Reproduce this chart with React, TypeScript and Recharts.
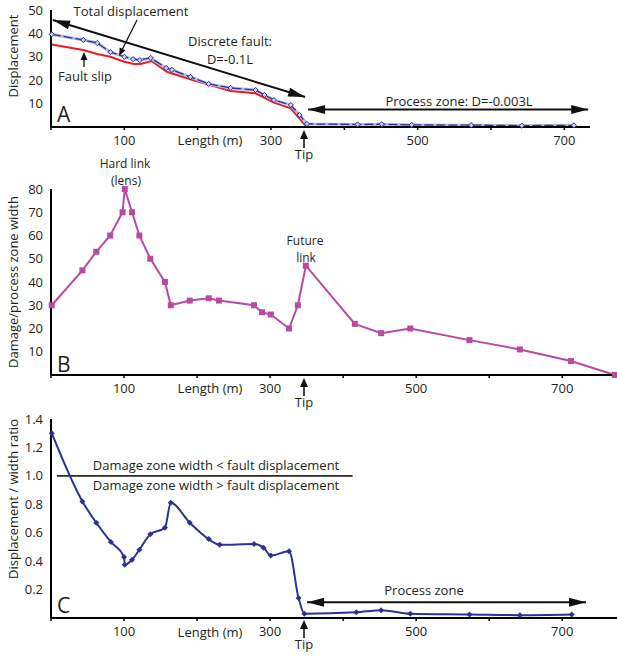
import React from "react";
import { LineChart, Line, XAxis, YAxis, ReferenceLine } from "recharts";

// Panel A: displacement along the fault (m)
const lengthTotal = [1, 44, 63, 81, 100, 112, 121, 136, 157, 165, 190, 215, 245, 279, 291, 304, 327, 339, 349, 418, 451, 492, 573, 642, 713];
const totalDisplacement = [39.6, 37.2, 35.9, 32, 30, 29, 28.6, 29.5, 25.2, 24.4, 21.4, 18.4, 16.7, 15.8, 13.7, 11.5, 9.4, 5.1, 1.3, 1.1, 1.2, 0.9, 0.8, 0.6, 0.7];
const lengthSlip = [1, 44, 63, 81, 100, 113, 122, 137, 158, 190, 245, 279, 304, 327, 348];
const faultSlip = [35.3, 32.9, 31.2, 30, 27.9, 26.9, 26.9, 28.2, 23.6, 20.4, 15.4, 14.4, 10.4, 8, 0.3];

// Panel B: damage / process zone width
const lengthWidth = [1, 43, 62, 81, 98, 101, 111, 121, 136, 156, 164, 190, 216, 230, 278, 289, 301, 326, 338, 349, 416, 452, 492, 573, 642, 712, 772];
const zoneWidth = [30, 45, 53, 60, 70, 80, 70, 60, 50, 40, 30, 32, 33, 32, 30, 27, 26, 20, 30, 47, 22, 18, 20, 15, 11, 6, 0];

// Panel C: displacement / width ratio
const lengthRatio = [1, 43, 62, 82, 100, 101, 111, 121, 136, 156, 164, 190, 216, 231, 278, 291, 301, 326, 339, 347, 418, 452, 492, 573, 642, 713];
const dispWidthRatio = [1.3, 0.82, 0.67, 0.535, 0.43, 0.375, 0.41, 0.48, 0.59, 0.635, 0.81, 0.67, 0.555, 0.515, 0.52, 0.495, 0.44, 0.47, 0.14, 0.03, 0.04, 0.055, 0.03, 0.025, 0.02, 0.025];

const lengthTicks = [0, 100, 200, 300, 400, 500, 600, 700];
const labelledLengths = [100, 300, 500, 700];
const dispTicks = [10, 20, 30, 40, 50];
const widthTicks = [10, 20, 30, 40, 50, 60, 70, 80];
const ratioTicks = [0.2, 0.4, 0.6, 0.8, 1.0, 1.2, 1.4];

const FONT = "'Open Sans', 'Noto Sans', sans-serif";
const INK = "#231f20";
const NAVY = "#2e3192";
const RED = "#ed1c24";
const MAGENTA = "#b84b9f";

const toPoints = (xs: number[], ys: number[]) => xs.map((x, i) => ({ x, y: ys[i] }));

const totalData = toPoints(lengthTotal, totalDisplacement);
const slipData = toPoints(lengthSlip, faultSlip);
const widthData = toPoints(lengthWidth, zoneWidth);
const ratioData = toPoints(lengthRatio, dispWidthRatio);

function xAxisFor(max: number) {
  return (
    <XAxis
      type="number"
      dataKey="x"
      domain={[0, max]}
      ticks={lengthTicks}
      tickFormatter={(v: number) => (labelledLengths.includes(v) ? String(v) : "")}
      tickSize={3}
      tickMargin={6}
      height={24}
      axisLine={{ stroke: "#000", strokeWidth: 2 }}
      tickLine={{ stroke: "#000", strokeWidth: 1.5 }}
      tick={{ fill: INK, fontSize: 13, fontFamily: FONT }}
    />
  );
}

function yAxisFor(max: number, ticks: number[], fmt?: (v: number) => string) {
  return (
    <YAxis
      type="number"
      domain={[0, max]}
      ticks={ticks}
      tickFormatter={fmt}
      width={51}
      tickLine={false}
      tickSize={0}
      tickMargin={8}
      axisLine={{ stroke: "#000", strokeWidth: 2 }}
      tick={{ fill: INK, fontSize: 13, fontFamily: FONT }}
    />
  );
}

// double headed arrow drawn along a reference segment
function arrowHead(tx: number, ty: number, fx: number, fy: number, len = 17, half = 4.5) {
  const d = Math.hypot(tx - fx, ty - fy) || 1;
  const ux = (tx - fx) / d;
  const uy = (ty - fy) / d;
  const bx = tx - ux * len;
  const by = ty - uy * len;
  return `${tx},${ty} ${bx - uy * half},${by + ux * half} ${bx + uy * half},${by - ux * half}`;
}

function DoubleArrow(props: any) {
  const { x1, y1, x2, y2 } = props;
  return (
    <g>
      <line x1={x1} y1={y1} x2={x2} y2={y2} stroke="#111" strokeWidth={2} />
      <polygon points={arrowHead(x1, y1, x2, y2)} fill="#111" />
      <polygon points={arrowHead(x2, y2, x1, y1)} fill="#111" />
    </g>
  );
}

const Diamond = (p: any) => {
  const { cx, cy, index } = p;
  if (cx == null || cy == null) return <g key={`dm-${index}`} />;
  const r = 2.6;
  return (
    <polygon
      key={`dm-${index}`}
      points={`${cx},${cy - r} ${cx + r},${cy} ${cx},${cy + r} ${cx - r},${cy}`}
      fill="#c9d0ee"
      stroke={NAVY}
      strokeWidth={1}
    />
  );
};

const SolidDiamond = (p: any) => {
  const { cx, cy, index } = p;
  if (cx == null || cy == null) return <g key={`sd-${index}`} />;
  const r = 3;
  return (
    <polygon
      key={`sd-${index}`}
      points={`${cx},${cy - r} ${cx + r},${cy} ${cx},${cy + r} ${cx - r},${cy}`}
      fill={NAVY}
    />
  );
};

const Square = (p: any) => {
  const { cx, cy, index } = p;
  if (cx == null || cy == null) return <g key={`sq-${index}`} />;
  return <rect key={`sq-${index}`} x={cx - 3} y={cy - 3} width={6} height={6} fill={MAGENTA} />;
};

function Tip({ x, y }: { x: number; y: number }) {
  return (
    <g>
      <line x1={x} y1={y + 18} x2={x} y2={y + 5} stroke="#111" strokeWidth={1.6} />
      <polygon points={`${x},${y} ${x - 4},${y + 9} ${x + 4},${y + 9}`} fill="#111" />
      <text x={x} y={y + 29} textAnchor="middle">Tip</text>
    </g>
  );
}

function Annotations() {
  return (
    <svg
      width={617}
      height={656}
      style={{ position: "absolute", left: 0, top: 0, pointerEvents: "none" }}
      fontFamily={FONT}
      fontSize={13}
      fill={INK}
    >
      {/* axis titles */}
      <text transform="translate(18,56) rotate(-90)" textAnchor="middle">Displacement</text>
      <text transform="translate(18,282) rotate(-90)" textAnchor="middle">Damage/process zone width</text>
      <text transform="translate(18,499) rotate(-90)" textAnchor="middle">Displacement / width ratio</text>
      <text x={210} y={145} textAnchor="middle">Length (m)</text>
      <text x={210} y={393} textAnchor="middle">Length (m)</text>
      <text x={210} y={637} textAnchor="middle">Length (m)</text>

      {/* panel letters */}
      <text x={57} y={122} fontSize={21}>A</text>
      <text x={57} y={372} fontSize={21}>B</text>
      <text x={57} y={613} fontSize={21}>C</text>

      {/* panel A notes */}
      <text x={131} y={16} textAnchor="middle">Total displacement</text>
      <line x1={137} y1={20} x2={122} y2={50} stroke="#111" strokeWidth={1.3} />
      <polygon points={arrowHead(119, 56, 137, 20, 8, 3.2)} fill="#111" />
      <text x={230} y={46} textAnchor="middle">Discrete fault:</text>
      <text x={230} y={64} textAnchor="middle">D=-0.1L</text>
      <text x={85} y={81} textAnchor="middle">Fault slip</text>
      <line x1={84} y1={67} x2={84} y2={58} stroke="#111" strokeWidth={1.3} />
      <polygon points={`84,52 80.5,60 87.5,60`} fill="#111" />
      <text x={459} y={106} textAnchor="middle">Process zone: D=-0.003L</text>
      <Tip x={304} y={130} />

      {/* panel B notes */}
      <text x={125} y={168} textAnchor="middle" fontSize={12}>Hard link</text>
      <text x={126} y={185} textAnchor="middle" fontSize={12}>(lens)</text>
      <text x={305} y={245} textAnchor="middle" fontSize={12}>Future</text>
      <text x={306} y={262} textAnchor="middle" fontSize={12}>link</text>
      <Tip x={304} y={378} />

      {/* panel C notes */}
      <text x={216} y={470} textAnchor="middle">Damage zone width &lt; fault displacement</text>
      <text x={216} y={490} textAnchor="middle">Damage zone width &gt; fault displacement</text>
      <text x={424} y={595} textAnchor="middle">Process zone</text>
      <Tip x={304} y={620} />
    </svg>
  );
}

export default function App() {
  return (
    <div style={{ position: "absolute", left: 0, top: 0, width: 617, height: 656, background: "#fff" }}>
      <div style={{ position: "absolute", left: 0, top: 0 }}>
        <LineChart width={617} height={151} margin={{ top: 10, right: 27, bottom: 0, left: 0 }}>
          {xAxisFor(735)}
          {yAxisFor(50, dispTicks)}
          <ReferenceLine segment={[{ x: 2.7, y: 45.7 }, { x: 346.5, y: 12.8 }]} shape={DoubleArrow} />
          <ReferenceLine segment={[{ x: 350.6, y: 7.5 }, { x: 732.6, y: 7.5 }]} shape={DoubleArrow} />
          <Line data={slipData} dataKey="y" type="linear" stroke={RED} strokeWidth={2} dot={false} isAnimationActive={false} />
          <Line data={totalData} dataKey="y" type="linear" stroke="#b3bce3" strokeWidth={3} dot={false} isAnimationActive={false} />
          <Line data={totalData} dataKey="y" type="linear" stroke={NAVY} strokeWidth={1.3} strokeDasharray="9 3" dot={Diamond} isAnimationActive={false} />
        </LineChart>
      </div>
      <div style={{ position: "absolute", left: 0, top: 180 }}>
        <LineChart width={617} height={219} margin={{ top: 9, right: 0, bottom: 0, left: 0 }}>
          {xAxisFor(775)}
          {yAxisFor(80, widthTicks)}
          <Line data={widthData} dataKey="y" type="linear" stroke={MAGENTA} strokeWidth={2} dot={Square} isAnimationActive={false} />
        </LineChart>
      </div>
      <div style={{ position: "absolute", left: 0, top: 410 }}>
        <LineChart width={617} height={232} margin={{ top: 9, right: 0, bottom: 0, left: 0 }}>
          {xAxisFor(775)}
          {yAxisFor(1.4, ratioTicks, (v: number) => v.toFixed(1))}
          <ReferenceLine segment={[{ x: 8, y: 1 }, { x: 413, y: 1 }]} stroke="#2b2b1f" strokeWidth={1.6} />
          <ReferenceLine segment={[{ x: 350.6, y: 0.11 }, { x: 732.6, y: 0.11 }]} shape={DoubleArrow} />
          <Line data={ratioData} dataKey="y" type="monotone" stroke={NAVY} strokeWidth={2} dot={SolidDiamond} isAnimationActive={false} />
        </LineChart>
      </div>
      <Annotations />
    </div>
  );
}
